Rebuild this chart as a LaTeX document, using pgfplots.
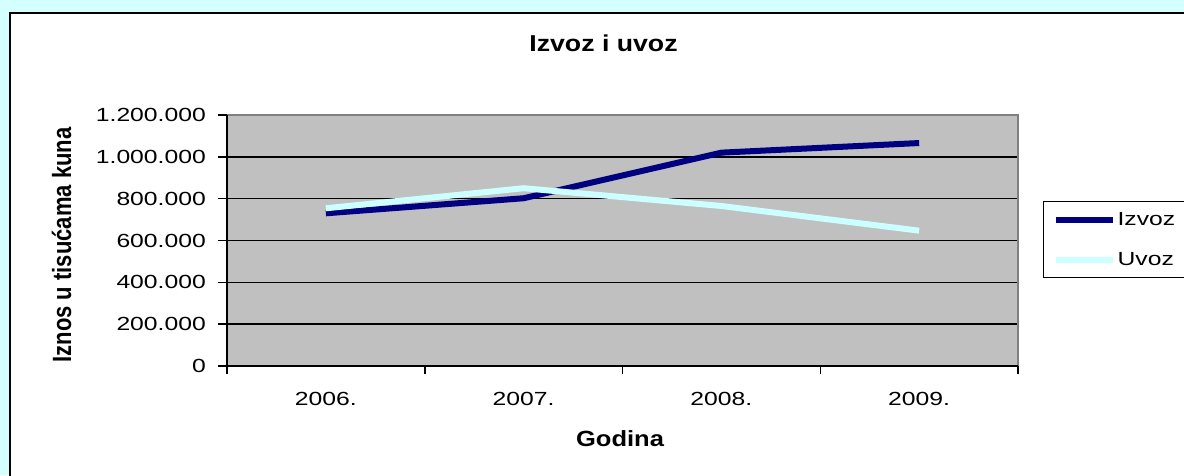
\documentclass[border=0pt]{standalone}
\usepackage{fontspec}
\setmainfont{Liberation Sans}
\newfontfamily\tickfont[FakeStretch=1.3]{Liberation Sans}
\newfontfamily\boldfont[FakeStretch=1.16]{Liberation Sans}
\usepackage{graphicx}
\usepackage{pgfplots}
\pgfplotsset{compat=1.18}
\definecolor{bgcyan}{RGB}{212,255,255}
\definecolor{izvoz}{RGB}{0,0,128}
\definecolor{uvoz}{RGB}{204,255,255}
\definecolor{plotgray}{RGB}{192,192,192}
\definecolor{bordergray}{RGB}{128,128,128}
\begin{document}
\begin{tikzpicture}[x=1pt,y=1pt]
\clip (0,0) rectangle (1184,475);
\fill[bgcyan] (0,0) rectangle (1184,475);
\fill[white] (10,-5) rectangle (1190,462);
\draw[black, line width=2.5pt] (10,-5) -- (10,462) -- (1190,462);
\node[anchor=base, font=\boldfont\bfseries\fontsize{23}{26}\selectfont] at (603.5,423.5) {Izvoz i uvoz};
\node[anchor=base, font=\boldfont\bfseries\fontsize{22}{26}\selectfont] at (620,28.5) {Godina};
\node[anchor=base, rotate=90] at (71,230) {\scalebox{1}[1.2]{\fontsize{22}{26}\selectfont\bfseries Iznos u tisućama kuna}};
\begin{axis}[
  at={(227pt,109pt)}, anchor=south west, scale only axis,
  width=791pt, height=251pt,
  xmin=-0.5, xmax=3.5, ymin=0, ymax=1200000,
  axis background/.style={fill=plotgray},
  axis line style={draw=none},
  ymajorgrids, grid style={black, line width=1.5pt},
  tick align=outside, xtick pos=bottom, ytick pos=left,
  major tick length=9pt, minor tick length=8pt,
  ytick={0,200000,400000,600000,800000,1000000,1200000},
  yticklabels={0,200.000,400.000,600.000,800.000,1.000.000,1.200.000},
  scaled y ticks=false,
  ytick style={black, line width=1.5pt},
  xtick={0,1,2,3},
  xticklabels={2006.,2007.,2008.,2009.},
  minor xtick={-0.5,0.5,1.5,2.5,3.5},
  major x tick style={draw=none},
  minor x tick style={black, line width=1.5pt},
  yticklabel style={font=\tickfont\fontsize{19}{22}\selectfont, inner sep=0pt, xshift=-12pt},
  xticklabel style={font=\tickfont\fontsize{19}{22}\selectfont, inner sep=0pt, anchor=north, yshift=-17pt},
  legend style={at={(1.0316,0.657)}, anchor=north west, draw=black, line width=1.2pt, fill=white,
    font=\tickfont\fontsize{19}{22}\selectfont, inner xsep=9pt, inner ysep=9pt, row sep=21pt,
    /tikz/every even column/.append style={column sep=5pt}},
  legend cell align=left,
  legend image code/.code={\draw[#1] (0pt,0pt) -- (57pt,0pt);},
  clip=false,
]
\addplot[izvoz, line width=6pt] coordinates {(0,730000) (1,802000) (2,1020000) (3,1066000)};
\addlegendentry{Izvoz}
\addplot[uvoz, line width=6pt] coordinates {(0,754000) (1,850000) (2,765000) (3,647000)};
\addlegendentry{Uvoz}
\draw[bordergray, line width=2.5pt] (rel axis cs:0,1) -- (rel axis cs:1,1) -- (rel axis cs:1,0);
\draw[black, line width=2pt] (rel axis cs:0,1) -- (rel axis cs:0,0) -- (rel axis cs:1,0);
\end{axis}
\end{tikzpicture}
\end{document}
